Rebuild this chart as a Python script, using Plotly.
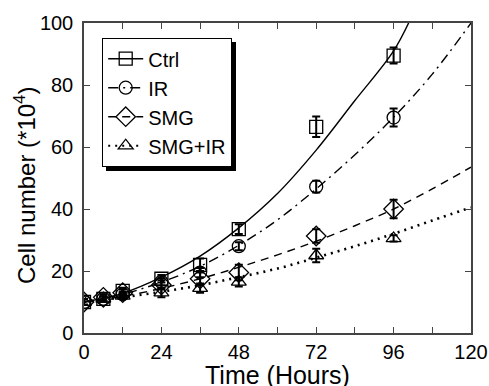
import plotly.graph_objects as go

# ---- data ----
hours = [0, 6, 12, 24, 36, 48, 72, 96]

ctrl = [10, 11, 13.6, 17.5, 22, 33.5, 66.5, 89.5]
ctrl_err = [1, 0.8, 1, 1.2, 2, 1.6, 3.3, 2.6]
ir = [10, 11, 12.5, 16.5, 19.5, 28, 47.2, 69.5]
ir_err = [0.8, 0.8, 0.8, 1.2, 1.5, 1.3, 1.9, 2.9]
smg = [10, 11.5, 13, 15.5, 17.5, 19.5, 31.3, 40]
smg_err = [1, 1, 1, 1.5, 2, 2.5, 2.2, 3]
smgir = [10, 11, 12, 13, 14.5, 16.5, 25, 30.5]
smgir_err = [1, 0.8, 1, 1.5, 1.5, 1.5, 2.2, 1]

# fitted curves
fit_t = [0, 12, 24, 36, 48, 60, 72, 84, 96, 108, 120]
ctrl_fit_t = [0, 12, 24, 36, 48, 60, 72, 84, 96, 102]
ctrl_fit = [10, 12.8, 18, 24.8, 33.9, 45, 59, 75, 91, 103]
ir_fit = [10, 12.5, 16.4, 21.5, 28.3, 36.5, 46.5, 57.5, 69.6, 83.5, 100]
smg_fit = [10, 11.8, 14.4, 17.5, 21.2, 25.2, 29.6, 34.6, 40, 46.5, 53.5]
smgir_fit = [10, 11.5, 13.3, 15.4, 18, 20.8, 24.3, 28, 32, 36.3, 40.5]

x_ticks = [0, 24, 48, 72, 96, 120]
y_ticks = [0, 20, 40, 60, 80, 100]

names = ["Ctrl", "IR", "SMG", "SMG+IR"]
x_title = "Time (Hours)"
y_title = "Cell number (*10<sup>4</sup>)"
FONT = "Arial, Liberation Sans, sans-serif"

# plot-area geometry in pixels
L, R, T, B = 84, 471, 23, 333
PW, PH = R - L, B - T

series = [
    (names[0], ctrl, ctrl_err, ctrl_fit_t, ctrl_fit, "square-open", 13, "solid", 1.4),
    (names[1], ir, ir_err, fit_t, ir_fit, "circle-open", 13, "10px,5px,2px,5px", 1.4),
    (names[2], smg, smg_err, fit_t, smg_fit, "diamond-open", 15, "8px,6px", 1.4),
    (names[3], smgir, smgir_err, fit_t, smgir_fit, "triangle-up-open", 13, "2px,5px", 2.6),
]

fig = go.Figure()
for name, vals, err, ft, fv, sym, size, dash, lw in series:
    fig.add_trace(go.Scatter(
        x=ft, y=fv, mode="lines", line=dict(color="black", width=lw, dash=dash, shape="spline"),
        showlegend=False, hoverinfo="skip", legendgroup=name))
    fig.add_trace(go.Scatter(
        x=hours, y=vals, mode="markers", name=name, legendgroup=name,
        marker=dict(symbol=sym, size=size, color="black", line=dict(color="black", width=1.3)),
        error_y=dict(type="data", array=err, color="black", thickness=2, width=4),
        showlegend=False))
    fig.add_trace(go.Scatter(
        x=[None], y=[None], mode="lines+markers", name=name, legendgroup=name,
        line=dict(color="black", width=1.4 if lw < 2 else 2, dash=dash),
        marker=dict(symbol=sym, size=size, color="black", line=dict(color="black", width=1.3))))


def px_x(p):
    return (p - L) / PW


def px_y(p):
    return 1 - (p - T) / PH


# legend drop shadow
fig.add_shape(type="rect", xref="paper", yref="paper",
              x0=px_x(106), x1=px_x(236), y0=px_y(171), y1=px_y(42),
              fillcolor="black", line=dict(width=0), layer="above")

axis_common = dict(
    showline=True, linecolor="#444", linewidth=1.5, mirror="ticks",
    ticks="inside", ticklen=6, tickwidth=1.3, tickcolor="#444",
    showgrid=False, zeroline=False, automargin=False,
    tickfont=dict(family=FONT, size=20, color="black"),
)

fig.update_layout(
    width=489, height=386,
    margin=dict(l=L, r=489 - R, t=T, b=386 - B, autoexpand=False),
    paper_bgcolor="white", plot_bgcolor="white",
    font=dict(family=FONT, color="black"),
    xaxis=dict(range=[0, 120], tickvals=x_ticks, ticktext=[str(v) for v in x_ticks],
               minor=dict(dtick=12, ticks="inside", ticklen=6, tickcolor="#444", tickwidth=1.3),
               ticklabelstandoff=0,
               **axis_common),
    yaxis=dict(range=[0, 100], tickvals=y_ticks, ticktext=[str(v) for v in y_ticks],
               ticklabelstandoff=5,
               **axis_common),
    legend=dict(x=px_x(102), y=px_y(38), xanchor="left", yanchor="top",
                bgcolor="white", bordercolor="black", borderwidth=1.2,
                font=dict(family=FONT, size=20, color="black"),
                itemwidth=35, tracegroupgap=0),
    showlegend=True,
    annotations=[
        dict(text=x_title, xref="paper", yref="paper", x=0.5, y=px_y(375),
             xanchor="center", yanchor="middle", showarrow=False,
             font=dict(family=FONT, size=25, color="black")),
        dict(text=y_title, xref="paper", yref="paper", x=px_x(25), y=px_y(186),
             xanchor="center", yanchor="middle", showarrow=False, textangle=-90,
             font=dict(family=FONT, size=24, color="black")),
    ],
)

fig.write_html("out.html", config={"displayModeBar": False},
               post_script="document.body.style.margin='0';document.body.style.overflow='hidden';")
